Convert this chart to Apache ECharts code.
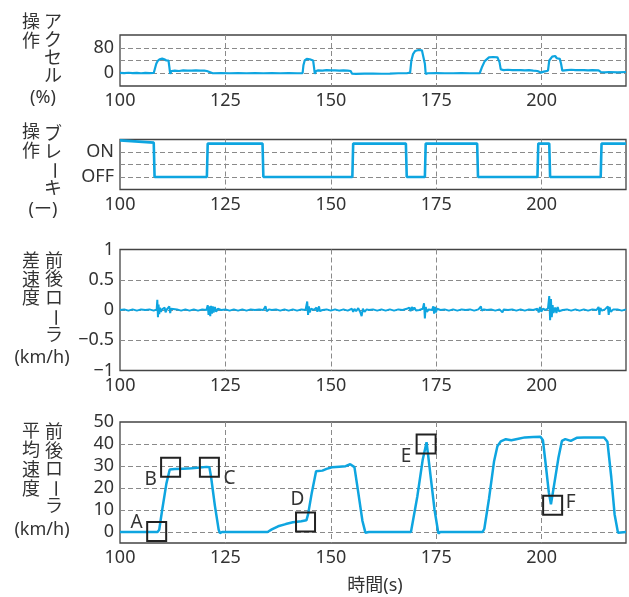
<!DOCTYPE html>
<html>
<head>
<meta charset="utf-8">
<script src="https://cdn.jsdelivr.net/npm/echarts@6/dist/echarts.min.js"></script>
<style>
html,body{margin:0;padding:0;background:#fff;}
#c{width:629px;height:597px;}
</style>
</head>
<body>
<div id="c"></div>
<script>
// ---------- data ----------
const timeTicks = [100, 125, 150, 175, 200];

// accelerator operation (%)
const accelData = [
[100,1],[101,0.5],[102,1.5],[103,0.5],[104,1],[105,0],[106,1],[107,0.5],[108,1],[108.4,0.5],[108.6,30],[108.9,38],[109.4,44],[110,46],[110.5,44],[111,40],[111.5,40],[111.7,20],[111.9,-2],[112.2,7],[113,8],[114,7],[115,9],[116,8],[117,8],[118,9],[119,8],[120,8],[120.6,7],[121,1],[122,0],[124,0.5],[126,0],[128,0.5],[130,0],[132,0.5],[134,0],[136,0.5],[138,0],[140,0.5],[142,0],[143.3,0],[143.5,25],[143.8,40],[144.3,45],[145,44],[145.8,40],[146,20],[146.2,-2],[146.5,7],[147,9],[148,8],[149,10],[150,9],[151,9],[152,8],[153,9],[154,8],[154.7,7],[155,-1],[156,-2],[158,-1],[160,-1],[162,-1.5],[164,-1],[166,0],[168,0],[168.8,2],[169.1,40],[169.5,60],[170,70],[170.8,73],[171.6,72],[172,68],[172.3,30],[172.5,-2],[173,0],[175,0.5],[177,0],[179,0],[181,0.5],[183,0],[185.3,0],[185.8,18],[186.5,38],[187.5,50],[188.5,51],[189.5,50],[190,35],[190.3,12],[190.6,8],[191,10],[192,11],[193,10],[194,10],[195,10],[196,9],[197,10],[198,8],[199,7],[199.8,2],[200.5,5],[201.5,8],[201.8,40],[202.5,52],[203.2,54],[203.6,47],[204.3,45],[204.6,30],[204.9,8],[205.3,12],[206,10],[207,11],[208,10],[209,10],[210,10],[211,9],[212,10],[213.5,9],[214,4],[215,3],[216,4],[218,3],[220,4]
];

// brake operation (OFF = 0, ON level ~ 2.67)
const brakeData = [
[100,2.93],[108,2.75],[108.2,0],[120.6,0],[120.8,2.67],[133.8,2.67],[134,0],[155.1,0],[155.3,2.67],[167.8,2.67],[168,0],[172.3,0],[172.5,2.67],[184.7,2.67],[184.9,0],[199,0],[199.2,2.67],[201.8,2.67],[202,0],[214,0],[214.2,2.67],[220,2.67]
];

// front/rear roller speed difference (km/h)
const diffData = [
[100,0],[101,0.01],[102,-0.01],[103,0.01],[104,-0.01],[105,0.01],[106,0],[107,0.01],[108,-0.01],[108.7,0.01],[108.85,0.17],[109,-0.12],[109.15,0.09],[109.3,-0.07],[109.5,0.04],[109.7,-0.03],[110,0.01],[110.6,0.04],[110.8,-0.04],[111.2,0.02],[111.7,0.06],[111.9,-0.05],[112.1,0.02],[112.5,0],[113.5,0.01],[114.5,-0.01],[115.5,0.01],[116.5,-0.01],[117.5,0.01],[118.5,-0.01],[119.5,0.01],[120.5,0],[120.8,0.08],[121,-0.08],[121.2,0.06],[121.4,-0.1],[121.6,0.07],[121.8,-0.06],[122,0.06],[122.2,-0.04],[122.5,0.05],[122.8,-0.03],[123.2,0.02],[124,0],[125,0.01],[126,-0.01],[127,0.01],[128,-0.01],[129,0.01],[130,-0.01],[131,0.01],[132,0],[133,0.01],[134,0],[134.5,0.06],[134.8,-0.02],[135.3,0.01],[136,0],[137,0.01],[138,-0.01],[139,0.01],[140,-0.01],[141,0.01],[142,-0.01],[143,0.01],[144,0],[144.4,0.14],[144.6,-0.08],[144.8,0.06],[145,-0.04],[145.3,0.02],[146,0],[146.6,0.04],[146.8,-0.03],[147.2,0.06],[147.4,-0.02],[148,0],[149,0.01],[150,-0.01],[151,0.01],[152,-0.01],[153,0.01],[154,-0.01],[155,0.02],[155.3,-0.03],[155.6,0.02],[156,-0.02],[156.5,0.03],[157,-0.04],[157.3,-0.1],[157.6,0.02],[158,-0.03],[158.5,0.01],[159,0],[160,0.01],[161,-0.01],[162,0.01],[163,-0.01],[164,0.01],[165,-0.01],[166,0.01],[167,0],[168,0.02],[168.3,-0.01],[168.6,0.04],[168.9,-0.02],[169.2,0.05],[169.5,0],[169.8,0.04],[170.2,-0.01],[170.6,0.02],[171,0],[171.8,0.02],[172.1,0.11],[172.3,-0.14],[172.5,0.05],[172.8,-0.03],[173.2,0.01],[174,0],[174.3,0.06],[174.5,-0.06],[174.7,0.05],[174.9,-0.04],[175.2,0.02],[176,0],[177,0.01],[178,-0.01],[179,0.01],[180,-0.01],[181,0.01],[182,0],[183,0.01],[184,-0.01],[185,0.01],[185.6,0.06],[185.8,-0.01],[186.3,0.01],[187,0],[188,0.01],[189,-0.01],[190,0.01],[190.7,-0.04],[191,0.01],[192,0],[193,0.01],[194,-0.01],[195,0.01],[196,-0.01],[197,0.01],[198,0],[199,0.02],[199.3,-0.04],[199.6,0.05],[199.9,-0.03],[200.3,0.02],[201,0],[201.5,0.03],[201.8,0.23],[202,-0.17],[202.2,0.18],[202.4,-0.12],[202.6,0.08],[202.8,-0.05],[203.2,0.04],[203.5,-0.05],[203.8,0.05],[204.1,-0.02],[204.5,0.01],[205,0],[206,0.01],[207,-0.01],[208,0.01],[209,-0.01],[210,0.01],[211,-0.01],[212,0.01],[213,0],[213.5,0.05],[213.7,-0.08],[213.9,0.03],[214.3,-0.01],[215,0.01],[215.7,0.06],[215.9,-0.08],[216.1,0.05],[216.4,-0.03],[217,0.01],[218,0.01],[219,-0.01],[220,0.01]
];

// front/rear roller average speed (km/h)
const speedData = [
[100,0],[108.9,0],[109.3,1],[110,10],[111,22],[111.8,28.4],[113,28.6],[115,28.8],[117,29],[119,29.3],[120.5,29.6],[121.2,29.4],[121.6,25],[122.5,12],[123.4,1],[123.7,-0.5],[124.2,0],[130,0],[135,0],[136,1.2],[137.5,2.6],[139.3,3.6],[141,4.4],[143,4.9],[144.2,5.3],[144.6,8],[145.5,18],[146.5,27.6],[148,27.9],[149,28.7],[150.3,29.4],[152,29.7],[153.5,29.9],[154.6,30.8],[155.6,29.5],[156.5,18],[157.5,5],[158.2,-0.3],[159,0],[165,0],[169,0],[169.3,0.6],[170.5,16],[171.8,33],[172.7,40.8],[173.5,28],[174.6,10],[175.5,-0.6],[176,0],[180,0],[186,0],[186.4,1.5],[187.5,15],[188.7,32],[189.5,39],[190.3,41.2],[191.5,42.2],[192.8,41.7],[194.5,42.4],[196,43],[198,43.2],[199.7,43.3],[200.3,41.7],[201,30],[201.7,18],[202.2,12.6],[203,22],[204,34],[204.8,41.4],[205.6,42.2],[206.9,41.4],[208.3,42.8],[210,43],[212,43],[214.8,43],[215.6,41],[216.5,25],[217.3,8],[218.1,-0.3],[220,0]
];

// annotated points A-F
const markerNames = ['A','B','C','D','E','F'];
const markerTimes = [108.7, 112.0, 121.2, 144.0, 172.6, 202.6];
const markerSpeeds = [0.2, 29.4, 29.4, 4.6, 40.0, 12.2];

// tick labels
const accelTickLabels = {0:'0', 80:'80'};
const brakeTickLabels = {0:'OFF', 2:'ON'};

// panel titles
const panelTitles = [
  {left:'操作', right:'アクセル', unit:'(%)'},
  {left:'操作', right:'ブレーキ', unit:'(ー)'},
  {left:'差速度', right:'前後ローラ', unit:'(km/h)'},
  {left:'平均速度', right:'前後ローラ', unit:'(km/h)'}
];
const xAxisTitle = '時間(s)';

// ---------- chart ----------
const FONT = '"Noto Sans", "Noto Sans CJK JP", sans-serif';
const TXT = '#333';
const LINE = '#0ea5e0';
const GRIDC = '#8a8a8a';

const gridsLayout = [
  {top:35, height:51},
  {top:139.5, height:50},
  {top:249.5, height:121},
  {top:422, height:121}
];

const grids = gridsLayout.map(g => ({
  left:120, width:510, top:g.top, height:g.height,
  show:true, borderColor:'#444', borderWidth:1.3, backgroundColor:'rgba(0,0,0,0)'
}));

const xAxes = gridsLayout.map((g,i) => ({
  type:'value', gridIndex:i, min:100, max:220, interval:25,
  axisLine:{show:false}, axisTick:{show:false},
  axisLabel:{fontSize:18, color:TXT, fontFamily:FONT, margin:6,
    formatter: v => timeTicks.indexOf(v) >= 0 ? String(v) : ''},
  splitLine:{show:true, showMinLine:false, showMaxLine:false,
    lineStyle:{type:[5,3], color:GRIDC, width:1}}
}));

const yCommon = {
  type:'value', axisLine:{show:false}, axisTick:{show:false}
};
const yLabel = {fontSize:18, color:TXT, fontFamily:FONT, margin:6};
const ySplit = {show:true, showMinLine:false, showMaxLine:false, lineStyle:{type:[5,3], color:GRIDC, width:1}};

const yAxes = [
  Object.assign({}, yCommon, {gridIndex:0, min:-40, max:120, interval:40,
    axisLabel:Object.assign({}, yLabel, {formatter: v => accelTickLabels[v] || ''}),
    splitLine:ySplit}),
  Object.assign({}, yCommon, {gridIndex:1, min:-1, max:3, interval:1,
    axisLabel:Object.assign({}, yLabel, {formatter: v => brakeTickLabels[v] || ''}),
    splitLine:ySplit}),
  Object.assign({}, yCommon, {gridIndex:2, min:-1, max:1, interval:0.5,
    axisLabel:Object.assign({}, yLabel, {formatter: v => String(v).replace('-', '\u2212')}),
    splitLine:ySplit}),
  Object.assign({}, yCommon, {gridIndex:3, min:-5, max:50, interval:5,
    axisLabel:Object.assign({}, yLabel, {formatter: v => (v >= 0 && v % 10 === 0) ? String(v) : ''}),
    splitLine:{show:true, showMinLine:false, showMaxLine:false,
      lineStyle:{type:[5,3], color:[GRIDC, 'rgba(0,0,0,0)'], width:1}}})
];

function lineSeries(data, idx, width) {
  return {type:'line', xAxisIndex:idx, yAxisIndex:idx, data:data, showSymbol:false, symbol:'none',
    silent:true, lineStyle:{color:LINE, width:width}, z:3};
}

const labelOffsets = [[-20,-9],[-20,12],[20,11],[-8,-22],[-20,13],[18,-3]];
const markerSeries = {
  type:'scatter', xAxisIndex:3, yAxisIndex:3, symbol:'rect', symbolSize:19, z:5, silent:true,
  itemStyle:{color:'rgba(0,0,0,0)', borderColor:'#222', borderWidth:2, opacity:1},
  label:{show:true, position:'inside', formatter:'{b}', fontSize:19, color:TXT, fontFamily:FONT},
  data: markerNames.map((n,i) => ({name:n, value:[markerTimes[i], markerSpeeds[i]],
    label:{offset:labelOffsets[i]}}))
};

function txt(s, x, y, rot) {
  return {type:'text', x:x, y:y, rotation:rot||0, silent:true,
    style:{text:s, fill:TXT, fontSize:18, fontFamily:FONT,
      align:'center', verticalAlign:'middle', textAlign:'center', textVerticalAlign:'middle'}};
}
function column(chars, x, y0, step) {
  return Array.from(chars).map((c,i) => txt(c, x, y0 + i*step, c === 'ー' ? -Math.PI/2 : 0));
}
const titleLayout = [
  {lx:31, ly:23.3, ls:18.4, rx:53, ry:23.3, rs:17.8, ux:43, uy:98},
  {lx:31, ly:133.3, ls:18.4, rx:53, ry:135, rs:17.8, ux:43, uy:210},
  {lx:31, ly:261.7, ls:18.8, rx:54, ry:261.7, rs:18.6, ux:42, uy:358},
  {lx:31, ly:431.7, ls:19.4, rx:54, ry:433, rs:18.5, ux:42, uy:530}
];
let graphics = [];
panelTitles.forEach((t,i) => {
  const L = titleLayout[i];
  graphics = graphics.concat(column(t.left, L.lx, L.ly, L.ls));
  graphics = graphics.concat(column(t.right, L.rx, L.ry, L.rs));
  graphics.push(txt(t.unit, L.ux, L.uy));
});
graphics.push(txt(xAxisTitle, 375, 586));

const chart = echarts.init(document.getElementById('c'), null, {renderer:'canvas'});
chart.setOption({
  animation:false,
  backgroundColor:'#fff',
  grid:grids,
  xAxis:xAxes,
  yAxis:yAxes,
  series:[
    lineSeries(accelData, 0, 2.2),
    lineSeries(brakeData, 1, 2.6),
    lineSeries(diffData, 2, 2),
    lineSeries(speedData, 3, 2.5),
    markerSeries
  ],
  graphic:graphics
});
</script>
</body>
</html>
